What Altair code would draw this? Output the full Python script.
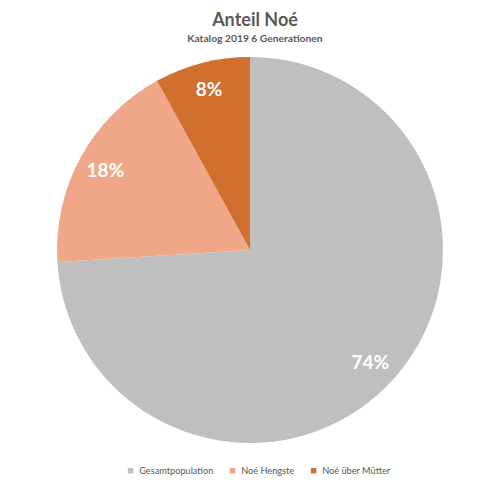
import altair as alt
import pandas as pd

categories = ["Gesamtpopulation", "Noé Hengste", "Noé über Mütter"]
values = [74, 18, 8]
labels = ["74%", "18%", "8%"]
colors = ["#BFBFBF", "#F0A787", "#D06F2E"]
title_text = "Anteil Noé"
subtitle_text = "Katalog 2019 6 Generationen"

FONT = "Lato"

df = pd.DataFrame({
    "Kategorie": categories,
    "Wert": values,
    "Label": labels,
    "Reihenfolge": list(range(len(categories))),
})

cx, cy = 242, 242

base = alt.Chart(df).encode(
    theta=alt.Theta("Wert:Q", stack=True),
    order=alt.Order("Reihenfolge:Q"),
    x=alt.value(cx),
    y=alt.value(cy),
)

arcs = base.mark_arc(radius=193, strokeWidth=0).encode(
    color=alt.Color(
        "Kategorie:N",
        scale=alt.Scale(domain=categories, range=colors),
        sort=categories,
        legend=alt.Legend(
            title=None,
            orient="none",
            legendX=118,
            legendY=458,
            direction="horizontal",
            symbolType="square",
            symbolSize=30,
            symbolStrokeWidth=0,
            labelFont=FONT,
            labelFontSize=9.2,
            labelColor="#595959",
            labelOffset=4,
            columnPadding=14,
        ),
    )
)

texts = base.mark_text(
    radius=165, font=FONT, fontSize=19, fontWeight="bold", color="white",
    align="center", baseline="middle",
).encode(text="Label:N")

title_df = pd.DataFrame({"t": [title_text]})
sub_df = pd.DataFrame({"t": [subtitle_text]})

title = alt.Chart(title_df).mark_text(
    font=FONT, fontSize=18, fontWeight="bold", color="#595959",
    align="center", baseline="alphabetic",
).encode(text="t:N", x=alt.value(247), y=alt.value(18))

subtitle = alt.Chart(sub_df).mark_text(
    font=FONT, fontSize=10.3, fontWeight="bold", color="#595959",
    align="center", baseline="alphabetic",
).encode(text="t:N", x=alt.value(247), y=alt.value(34))

chart = alt.layer(arcs, texts, title, subtitle).properties(
    width=484, height=469, padding=0,
    autosize=alt.AutoSizeParams(type="none"),
    background="white",
).configure_view(stroke=None)

chart.save("out.html", embed_options={"renderer": "svg", "actions": False})
